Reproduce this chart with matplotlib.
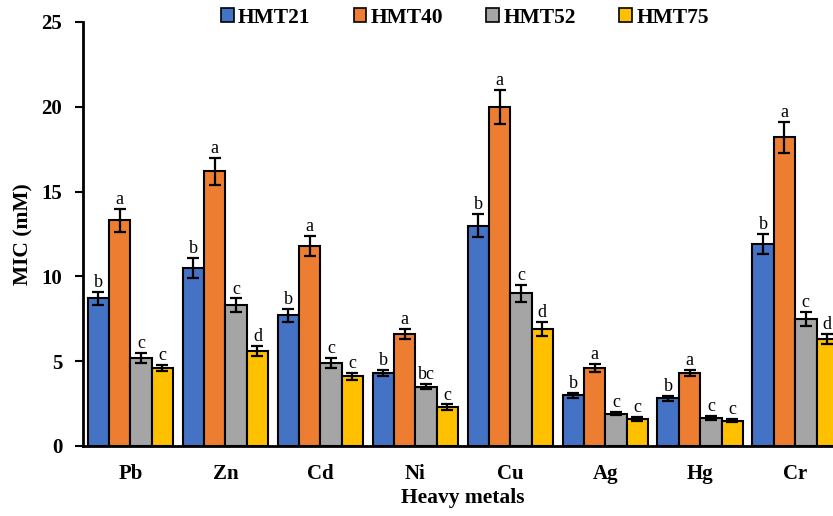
import matplotlib.pyplot as plt
import numpy as np

plt.rcParams['font.family'] = ['Liberation Serif', 'DejaVu Serif']

metals = ['Pb', 'Zn', 'Cd', 'Ni', 'Cu', 'Ag', 'Hg', 'Cr']
strains = ['HMT21', 'HMT40', 'HMT52', 'HMT75']

hmt21 = [8.7, 10.5, 7.7, 4.3, 13.0, 3.0, 2.8, 11.9]
hmt40 = [13.3, 16.2, 11.8, 6.6, 20.0, 4.6, 4.3, 18.2]
hmt52 = [5.2, 8.3, 4.9, 3.5, 9.0, 1.9, 1.65, 7.5]
hmt75 = [4.6, 5.6, 4.1, 2.3, 6.9, 1.6, 1.5, 6.3]

err21 = [0.4, 0.6, 0.4, 0.2, 0.7, 0.15, 0.15, 0.6]
err40 = [0.7, 0.8, 0.6, 0.3, 1.0, 0.25, 0.2, 0.9]
err52 = [0.3, 0.4, 0.3, 0.15, 0.5, 0.1, 0.1, 0.4]
err75 = [0.2, 0.3, 0.2, 0.15, 0.4, 0.1, 0.1, 0.3]

let21 = ['b', 'b', 'b', 'b', 'b', 'b', 'b', 'b']
let40 = ['a', 'a', 'a', 'a', 'a', 'a', 'a', 'a']
let52 = ['c', 'c', 'c', 'bc', 'c', 'c', 'c', 'c']
let75 = ['c', 'd', 'c', 'c', 'd', 'c', 'c', 'd']

colors = ['#4472C4', '#ED7D31', '#A5A5A5', '#FFC000']

fig = plt.figure(figsize=(8.33, 5.16), dpi=100)
ax = fig.add_axes([0.0996, 0.1357, 0.912, 0.8217])

x = np.arange(len(metals))
w = 0.225
series = [(hmt21, err21, let21), (hmt40, err40, let40),
          (hmt52, err52, let52), (hmt75, err75, let75)]

for i, (vals, errs, lets) in enumerate(series):
    pos = x + (i - 1.5) * w
    ax.bar(pos, vals, w, color=colors[i], edgecolor='black', linewidth=1.5,
           label=strains[i], zorder=2)
    ax.errorbar(pos, vals, yerr=errs, fmt='none', ecolor='black',
                elinewidth=1.6, capsize=4, capthick=1.6, zorder=3)
    for p, v, e, t in zip(pos, vals, errs, lets):
        ax.text(p, v + e + 0.05, t, ha='center', va='bottom', fontsize=13)

ax.set_xlim(-0.5, 7.5)
ax.set_ylim(0, 25)
ax.set_yticks([0, 5, 10, 15, 20, 25])
ax.set_xticks(x)
ax.set_xticklabels(metals)
ax.tick_params(axis='x', length=0, pad=13)
ax.tick_params(axis='y', length=6, width=1.5, direction='out', pad=9)
for lab in ax.get_xticklabels() + ax.get_yticklabels():
    lab.set_fontweight('bold')
    lab.set_fontsize(15)

ax.spines['top'].set_visible(False)
ax.spines['right'].set_visible(False)
ax.spines['left'].set_linewidth(2)
ax.spines['bottom'].set_linewidth(2)

ax.set_ylabel('MIC (mM)', fontsize=15.5, fontweight='bold', labelpad=6)
fig.text(0.556, 0.035, 'Heavy metals', ha='center', va='center',
         fontsize=15.5, fontweight='bold')

leg = fig.legend(loc='center', bbox_to_anchor=(0.558, 0.966), ncol=4,
                 frameon=False, handlelength=0.6, handleheight=0.6,
                 handletextpad=0.2, columnspacing=2.0,
                 prop={'weight': 'bold', 'size': 15.5})
for h in leg.legend_handles:
    h.set_linewidth(1.2)

fig.savefig('out.png', dpi=100)
